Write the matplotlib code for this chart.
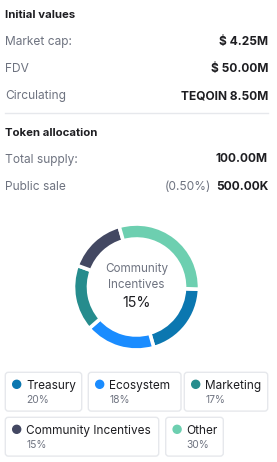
import matplotlib.pyplot as plt
from matplotlib.patches import FancyBboxPatch, Circle

plt.rcParams["font.family"] = ["Inter", "DejaVu Sans"]

# data
info_labels = ["Market cap:", "FDV", "Circulating"]
info_values = ["$ 4.25M", "$ 50.00M", "TEQOIN 8.50M"]
supply_labels = ["Total supply:", "Public sale"]
supply_values = ["100.00M", "500.00K"]
public_sale_pct = "(0.50%)"

categories = ["Treasury", "Ecosystem", "Marketing", "Community Incentives", "Other"]
shares = [20, 18, 17, 15, 30]
colors = ["#0B77B0", "#1A8CFF", "#268C8D", "#434862", "#6DCFB0"]
highlight = 3  # Community Incentives shown in the middle

DARK = "#1E1E22"
GRAY = "#6E7380"
LINE = "#E6E8EC"

W, H = 277, 462
fig = plt.figure(figsize=(W / 100, H / 100), dpi=100)
fig.patch.set_facecolor("white")
ax = fig.add_axes([0, 0, 1, 1])
ax.set_xlim(0, W)
ax.set_ylim(H, 0)
ax.axis("off")

# Initial values block
ax.text(5, 18, "Initial values", fontsize=8.2, fontweight="bold", color=DARK)
for i, (lab, val) in enumerate(zip(info_labels, info_values)):
    y = 45 + i * 27
    ax.text(5, y, lab, fontsize=8.6, color=GRAY)
    ax.text(268, y, val, fontsize=8.6, fontweight="bold", color=DARK, ha="right")

ax.plot([5, 268], [113, 113], color=LINE, lw=1)

# Token allocation block
ax.text(5, 136, "Token allocation", fontsize=8.2, fontweight="bold", color=DARK)
for i, (lab, val) in enumerate(zip(supply_labels, supply_values)):
    y = 162.5 + i * 27.5
    ax.text(5, y, lab, fontsize=8.6, color=GRAY)
    ax.text(268, y, val, fontsize=8.6, fontweight="bold", color=DARK, ha="right")
ax.text(211, 190, public_sale_pct, fontsize=8.6, color=GRAY, ha="right")

# donut
cx, cy, r = 136.5, 287, 63
pax = fig.add_axes([(cx - r) / W, 1 - (cy + r) / H, 2 * r / W, 2 * r / H])
pax.pie(shares, colors=colors, startangle=-2, counterclock=False,
        wedgeprops=dict(width=15 / r, edgecolor="white", linewidth=2.6))
pax.set_xlim(-1, 1)
pax.set_ylim(-1, 1)
pax.set_aspect("equal")
pax.axis("off")

ax.text(cx, 272.3, "Community", fontsize=8.4, color=GRAY, ha="center")
ax.text(cx, 287.7, "Incentives", fontsize=8.4, color=GRAY, ha="center")
ax.text(cx, 307, f"{shares[highlight]}%", fontsize=10.3, color=DARK, ha="center")

# legend cards
boxes = [(5.3, 372.3, 76.4), (88.3, 372.3, 92.7), (184.3, 372.3, 83.4),
         (5.3, 417.3, 153.4), (165.7, 417.3, 57.6)]
for (bx, by, bw), name, pct, col in zip(boxes, categories, shares, colors):
    ax.add_patch(FancyBboxPatch((bx, by), bw, 38.8,
                                boxstyle="round,pad=0,rounding_size=3",
                                fc="white", ec=LINE, lw=1))
    ax.add_patch(Circle((bx + 11.4, by + 12), 4, color=col))
    ax.text(bx + 21, by + 17, name, fontsize=8.5, color=DARK)
    ax.text(bx + 21, by + 31, f"{pct}%", fontsize=7.4, color=GRAY)

fig.savefig("out.png", dpi=100)
